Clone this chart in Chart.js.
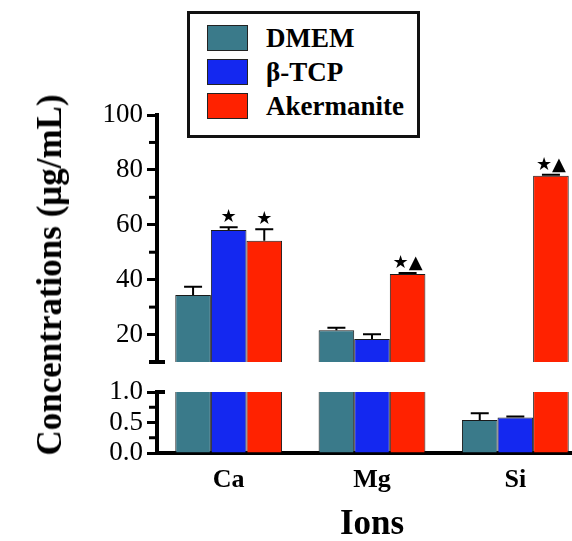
<!DOCTYPE html>
<html>
<head>
<meta charset="utf-8">
<script src="https://cdn.jsdelivr.net/npm/chart.js@4"></script>
<style>
  html, body { margin: 0; padding: 0; overflow: hidden; background: #fff; }
  #wrap { position: relative; width: 600px; height: 541px; overflow: hidden; }
  canvas { position: absolute; left: 0; }
  #topChart { top: 0; }
  #botChart { top: 360px; }
  #ytitle {
    position: absolute; left: 50px; top: 275px;
    transform: translate(-50%, -50%) rotate(-90deg);
    white-space: nowrap; color: #000;
    font: bold 35px 'Liberation Serif', serif;
  }
  #legend {
    position: absolute; left: 187px; top: 11px; width: 233px; height: 127px;
    box-sizing: border-box; border: 3px solid #111; background: #fff;
    font: bold 27px 'Liberation Serif', serif; color: #000;
  }
  .item { position: absolute; left: 17px; height: 26px; line-height: 26px; white-space: nowrap; }
  .swatch { position: absolute; left: 0; top: 0; width: 41px; height: 26px; box-sizing: border-box; border: 1px solid #222; }
  .label { position: absolute; left: 59px; top: 0; }
</style>
</head>
<body>
<div id="wrap">
  <canvas id="topChart" width="600" height="384"></canvas>
  <canvas id="botChart" width="600" height="186"></canvas>
  <div id="ytitle">Concentrations (μg/mL)</div>
  <div id="legend"></div>
</div>
<script>
const categories = ['Ca', 'Mg', 'Si'];
const seriesNames = ['DMEM', 'β-TCP', 'Akermanite'];
const seriesColors = ['#3a7a8a', '#1428f0', '#ff2200'];

const dmemVals = [34.4, 21.6, 0.54];
const dmemErrs = [3.0, 0.9, 0.11];
const tcpVals = [58.1, 18.4, 0.58];
const tcpErrs = [1.0, 1.7, 0.02];
const akVals = [54.2, 42.1, 77.9];
const akErrs = [4.2, 0.3, 0.3];

// significance marks drawn above the error bars
const dmemMarks = ['', '', ''];
const tcpMarks = ['★', '', ''];
const akMarks = ['★', '★▲', '★▲'];

const topTicks = [20, 40, 60, 80, 100];
const topMinorTicks = [30, 50, 70, 90];
const bottomTicks = [0, 0.5, 1.0];
const bottomMinorTicks = [0.25, 0.75];

const AXIS_X = 157;

function makeDatasets() {
  const vals = [dmemVals, tcpVals, akVals];
  const errs = [dmemErrs, tcpErrs, akErrs];
  const marks = [dmemMarks, tcpMarks, akMarks];
  return seriesNames.map((name, i) => ({
    label: name,
    data: vals[i],
    errors: errs[i],
    marks: marks[i],
    backgroundColor: seriesColors[i],
    borderColor: '#1a1a1a',
    borderWidth: 1,
    categoryPercentage: 0.745,
    barPercentage: 1.0,
    clip: 0,
  }));
}

// error bars, marks, minor ticks and the axis-break caps
const errorBarPlugin = {
  id: 'errorBars',
  afterDatasetsDraw(chart, args, opts) {
    const ctx = chart.ctx;
    const y = chart.scales.y;
    ctx.save();
    ctx.strokeStyle = '#000';
    ctx.fillStyle = '#000';
    ctx.lineWidth = 2;
    chart.data.datasets.forEach((ds, i) => {
      chart.getDatasetMeta(i).data.forEach((bar, j) => {
        const v = ds.data[j];
        if (v < y.min || v > y.max) return;
        const yTop = y.getPixelForValue(Math.min(v + ds.errors[j], y.max));
        ctx.beginPath();
        ctx.moveTo(bar.x, bar.y);
        ctx.lineTo(bar.x, yTop);
        ctx.moveTo(bar.x - 9, yTop);
        ctx.lineTo(bar.x + 9, yTop);
        ctx.stroke();
        const mark = ds.marks[j];
        if (opts.marks && mark) {
          ctx.font = '18px "DejaVu Sans"';
          ctx.textAlign = 'center';
          ctx.textBaseline = 'middle';
          ctx.fillText(mark, bar.x, yTop - 10);
        }
      });
    });
    ctx.restore();
  },
  afterDraw(chart, args, opts) {
    const ctx = chart.ctx;
    const y = chart.scales.y;
    const x0 = chart.chartArea.left;
    ctx.save();
    ctx.strokeStyle = '#000';
    ctx.lineWidth = 3;
    opts.minor.forEach((v) => {
      const py = y.getPixelForValue(v);
      ctx.beginPath();
      ctx.moveTo(x0 - 8, py);
      ctx.lineTo(x0, py);
      ctx.stroke();
    });
    const cy = y.getPixelForValue(opts.capValue);
    ctx.lineWidth = 4;
    ctx.beginPath();
    ctx.moveTo(x0 - opts.capLeft, cy);
    ctx.lineTo(x0 + opts.capRight, cy);
    ctx.stroke();
    ctx.restore();
  },
};

function yAxis(min, max, ticks, fmt) {
  return {
    min: min,
    max: max,
    stacked: false,
    afterBuildTicks: (scale) => {
      scale.ticks = ticks.map((v) => ({ value: v }));
    },
    afterFit: (scale) => {
      scale.width = AXIS_X;
    },
    border: { display: true, color: '#000', width: 4 },
    grid: { drawOnChartArea: false, color: '#000', tickColor: '#000', tickLength: 10, tickWidth: 3 },
    ticks: {
      color: '#000',
      padding: 4,
      autoSkip: false,
      font: { family: 'Liberation Serif', size: 27 },
      callback: fmt,
    },
  };
}

const topChart = new Chart(document.getElementById('topChart'), {
  type: 'bar',
  data: { labels: categories, datasets: makeDatasets() },
  options: {
    responsive: false,
    animation: false,
    devicePixelRatio: 1,
    layout: { padding: { top: 115, bottom: 22, left: 0, right: 13 } },
    plugins: {
      legend: { display: false },
      tooltip: { enabled: false },
      errorBars: { marks: true, minor: topMinorTicks, capValue: 10, capLeft: 8, capRight: 8 },
    },
    scales: {
      x: { display: false, offset: true },
      y: yAxis(10, 100, topTicks, (v) => String(v)),
    },
  },
  plugins: [errorBarPlugin],
});

const botChart = new Chart(document.getElementById('botChart'), {
  type: 'bar',
  data: { labels: categories, datasets: makeDatasets() },
  options: {
    responsive: false,
    animation: false,
    devicePixelRatio: 1,
    layout: { padding: { top: 32, bottom: 0, left: 0, right: 13 } },
    plugins: {
      legend: { display: false },
      tooltip: { enabled: false },
      errorBars: { marks: false, minor: bottomMinorTicks, capValue: 1.0, capLeft: 0, capRight: 8 },
    },
    scales: {
      x: {
        offset: true,
        afterFit: (scale) => {
          scale.height = 93;
        },
        border: { display: true, color: '#000', width: 4 },
        grid: { display: false, drawTicks: false },
        ticks: {
          color: '#000',
          padding: 12,
          font: { family: 'Liberation Serif', size: 26, weight: 'bold' },
        },
        title: {
          display: true,
          text: 'Ions',
          color: '#000',
          padding: { top: 0, bottom: 0 },
          font: { family: 'Liberation Serif', size: 35, weight: 'bold' },
        },
      },
      y: yAxis(0, 1, bottomTicks, (v) => v.toFixed(1)),
    },
  },
  plugins: [errorBarPlugin],
});

// legend box built from the same series arrays
const legendEl = document.getElementById('legend');
const rowTops = [11, 45, 79];
seriesNames.forEach((name, i) => {
  const item = document.createElement('div');
  item.className = 'item';
  item.style.top = rowTops[i] + 'px';
  const sw = document.createElement('span');
  sw.className = 'swatch';
  sw.style.background = seriesColors[i];
  const lb = document.createElement('span');
  lb.className = 'label';
  lb.textContent = name;
  item.appendChild(sw);
  item.appendChild(lb);
  legendEl.appendChild(item);
});
</script>
</body>
</html>
